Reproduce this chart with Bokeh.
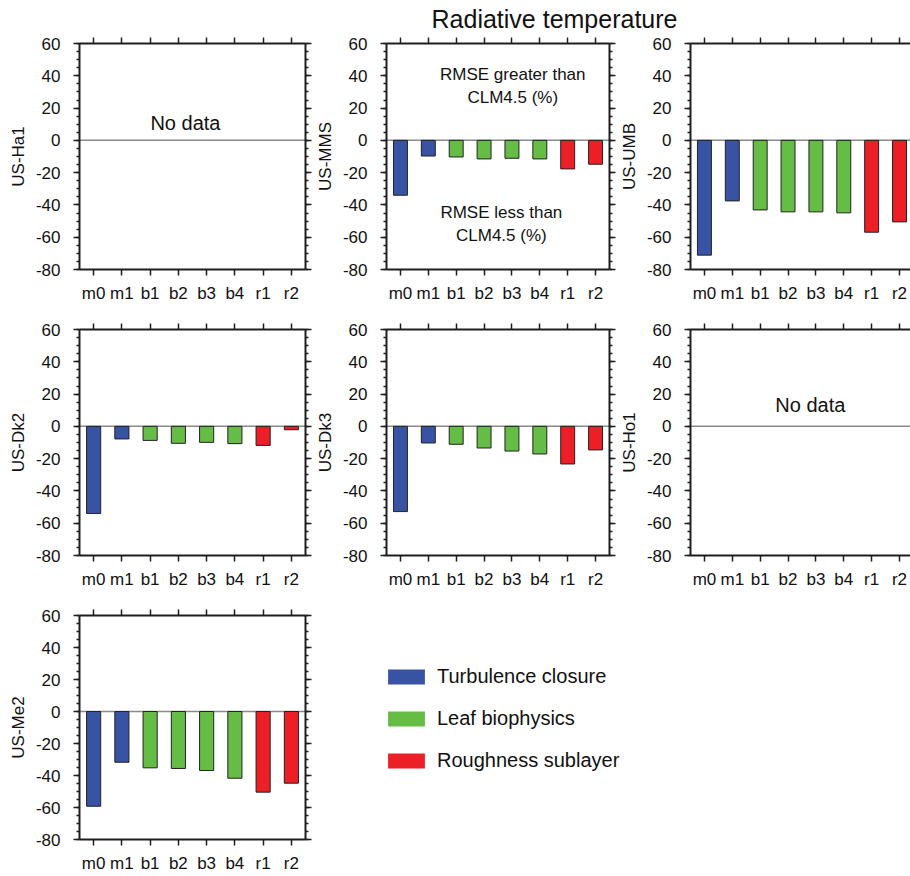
from bokeh.plotting import figure
from bokeh.models import (LinearAxis, FixedTicker, Range1d, Span, ColumnDataSource,
                          Legend, LegendItem, CustomJSTickFormatter, Label)
from bokeh.layouts import column, row
from bokeh.embed import file_html
from bokeh.resources import INLINE

# ---------------- data ----------------
TITLE = "Radiative temperature"
EXPERIMENTS = ["m0", "m1", "b1", "b2", "b3", "b4", "r1", "r2"]
GROUP_OF_EXP = [0, 0, 1, 1, 1, 1, 2, 2]
GROUP_NAMES = ["Turbulence closure", "Leaf biophysics", "Roughness sublayer"]
GROUP_COLORS = ["#3953A4", "#66BD46", "#EC1F26"]

SITES = ["US-Ha1", "US-MMS", "US-UMB", "US-Dk2", "US-Dk3", "US-Ho1", "US-Me2"]
US_Ha1 = []
US_MMS = [-34.0, -9.7, -10.3, -11.5, -11.1, -11.5, -17.7, -14.8]
US_UMB = [-71.1, -37.5, -43.1, -44.3, -44.3, -44.9, -56.9, -50.5]
US_Dk2 = [-54.0, -7.8, -8.7, -10.5, -9.9, -10.7, -11.8, -2.1]
US_Dk3 = [-52.8, -10.3, -11.1, -13.4, -15.3, -17.1, -23.3, -14.6]
US_Ho1 = []
US_Me2 = [-59.2, -31.7, -35.2, -35.6, -36.9, -41.7, -50.4, -44.8]
SITE_VALUES = [US_Ha1, US_MMS, US_UMB, US_Dk2, US_Dk3, US_Ho1, US_Me2]

Y_TICKS = [-80, -60, -40, -20, 0, 20, 40, 60]
Y_TICK_LABELS = ["-80", "-60", "-40", "-20", "0", "20", "40", "60"]
Y_MINOR = list(range(-80, 61, 5))
NO_DATA = "No data"
NOTE_UP = "RMSE greater than\nCLM4.5 (%)"
NOTE_DOWN = "RMSE less than\nCLM4.5 (%)"

# ---------------- style ----------------
FONT = "Liberation Sans"
INK = "#1e1e1e"
TXT = "#111111"
FRAME = 226
PX_PER_CAT = FRAME / 8.0
X_POS = [i + 1 for i in range(len(EXPERIMENTS))]


def style_axis(ax, tick_out, minor_out=0):
    ax.axis_line_width = 2
    ax.axis_line_color = INK
    ax.major_tick_line_width = 1.5
    ax.major_tick_line_color = INK
    ax.minor_tick_line_width = 1.5
    ax.minor_tick_line_color = INK
    ax.major_tick_in = 0
    ax.minor_tick_in = 0
    ax.major_tick_out = tick_out
    ax.minor_tick_out = minor_out
    ax.major_label_text_font = FONT
    ax.major_label_text_font_size = "17px"
    ax.major_label_text_color = TXT


def blank_labels(ax):
    ax.formatter = CustomJSTickFormatter(code="return ''")
    ax.major_label_text_font_size = "0px"
    ax.major_label_standoff = 0


def panel(idx, col, last_row):
    site = SITES[idx]
    vals = SITE_VALUES[idx]
    last_col = (col == 2)
    fw = 223 if last_col else FRAME
    left_border = 79 if col == 0 else 71
    right_border = 0 if last_col else 7
    bottom_border = 34 if last_row else 50
    p = figure(width=left_border + fw + right_border,
               height=10 + FRAME + bottom_border,
               x_range=Range1d(0.5, 0.5 + fw / PX_PER_CAT),
               y_range=Range1d(-80, 60),
               x_axis_type=None, y_axis_type=None,
               toolbar_location=None, output_backend="svg",
               min_border_left=left_border, min_border_right=right_border,
               min_border_top=10, min_border_bottom=bottom_border,
               outline_line_color=None, background_fill_color="white",
               border_fill_color="white")

    zero = Span(location=0, dimension="width", line_color="#8a8a8a",
                line_width=1.5, level="underlay")
    p.add_layout(zero)

    if vals:
        src = ColumnDataSource(dict(
            x=X_POS, top=[0.0] * len(vals), bottom=vals,
            color=[GROUP_COLORS[g] for g in GROUP_OF_EXP]))
        p.vbar(x="x", top="top", bottom="bottom", width=0.5, source=src,
               fill_color="color", line_color="#222222", line_width=1)
    else:
        nx = 4.25 if col == 0 else 4.8
        ny = 11.0 if col == 0 else 13.0
        p.add_layout(Label(x=nx, y=ny, text=NO_DATA, text_align="center",
                           text_baseline="middle", text_font=FONT,
                           text_font_size="20px", text_color=TXT))

    if site == "US-MMS":
        p.add_layout(Label(x=5.03, y=33.7, text=NOTE_UP, text_align="center",
                           text_baseline="middle", text_font=FONT,
                           text_font_size="17px", text_color=TXT))
        p.add_layout(Label(x=4.62, y=-51.8, text=NOTE_DOWN, text_align="center",
                           text_baseline="middle", text_font=FONT,
                           text_font_size="17px", text_color=TXT))

    # left axis
    left = LinearAxis(ticker=FixedTicker(ticks=Y_TICKS, minor_ticks=Y_MINOR),
                      major_label_overrides=dict(zip(Y_TICKS, Y_TICK_LABELS)),
                      axis_label=site)
    style_axis(left, 6, 3)
    left.major_label_standoff = 13
    left.axis_label_standoff = 5
    left.axis_label_text_font = FONT
    left.axis_label_text_font_size = "17px"
    left.axis_label_text_font_style = "normal"
    left.axis_label_text_color = TXT
    p.add_layout(left, "left")

    # right axis
    if not last_col:
        right = LinearAxis(ticker=FixedTicker(ticks=Y_TICKS, minor_ticks=Y_MINOR))
        style_axis(right, 6, 3)
        blank_labels(right)
        p.add_layout(right, "right")

    # bottom axis
    bottom = LinearAxis(ticker=FixedTicker(ticks=X_POS, minor_ticks=[]),
                        major_label_overrides=dict(zip(X_POS, EXPERIMENTS)))
    style_axis(bottom, 6)
    bottom.major_label_standoff = 8
    p.add_layout(bottom, "below")

    # top axis
    top = LinearAxis(ticker=FixedTicker(ticks=X_POS, minor_ticks=[]))
    style_axis(top, 6)
    blank_labels(top)
    p.add_layout(top, "above")
    return p


# title strip
tf = figure(width=910, height=33, x_range=Range1d(0, 1), y_range=Range1d(0, 1),
            x_axis_type=None, y_axis_type=None, toolbar_location=None,
            output_backend="svg", min_border=0, outline_line_color=None)
tf.add_layout(Label(x=554, y=15, x_units="screen", y_units="screen", text=TITLE,
                    text_align="center", text_baseline="middle",
                    text_font=FONT, text_font_size="25px", text_color=TXT))

panels = [panel(0, 0, False), panel(1, 1, False), panel(2, 2, False),
          panel(3, 0, False), panel(4, 1, False), panel(5, 2, False),
          panel(6, 0, True)]

# legend area (swatches come from a zero-size glyph of the group table)
lf = figure(width=598, height=270, x_range=Range1d(-1, 3), y_range=Range1d(-1, 1),
            x_axis_type=None, y_axis_type=None, toolbar_location=None,
            output_backend="svg", min_border=0, outline_line_color=None)
gsrc = ColumnDataSource(dict(x=list(range(len(GROUP_NAMES))),
                             y=[0.0] * len(GROUP_NAMES),
                             color=GROUP_COLORS, name=GROUP_NAMES))
gr = lf.vbar(x="x", top="y", bottom="y", width=0.0, source=gsrc,
             fill_color="color", line_color=None)
items = [LegendItem(label=n, renderers=[gr], index=i)
         for i, n in enumerate(GROUP_NAMES)]
leg = Legend(items=items, location=(71, 67), glyph_width=46, glyph_height=19,
             label_text_font=FONT, label_text_font_size="20px",
             label_text_color=TXT, label_standoff=8, spacing=19,
             padding=0, margin=0, border_line_color=None,
             background_fill_alpha=0)
lf.add_layout(leg)

layout = column(tf,
                row(panels[0], panels[1], panels[2]),
                row(panels[3], panels[4], panels[5]),
                row(panels[6], lf))

open("out.html", "w").write(file_html(layout, INLINE))
